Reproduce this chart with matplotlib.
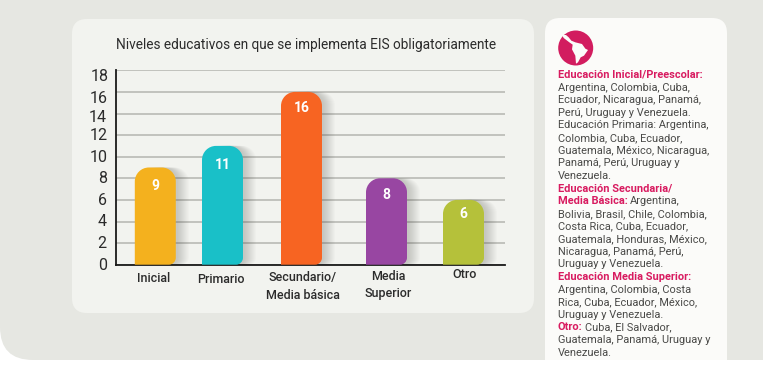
import matplotlib
matplotlib.use('Agg')
import matplotlib.pyplot as plt
from matplotlib.patches import FancyBboxPatch, Circle, PathPatch, Polygon
from matplotlib.path import Path
from matplotlib.transforms import ScaledTranslation

plt.rcParams['font.family'] = ['Roboto', 'DejaVu Sans']

# datos
categorias = ['Inicial', 'Primario', 'Secundario/\nMedia básica', 'Media\nSuperior', 'Otro']
valores = [9, 11, 16, 8, 6]
ticks_y = [0, 2, 4, 6, 8, 10, 12, 14, 16, 18]

titulo = 'Niveles educativos en que se implementa EIS obligatoriamente'

# (parte rosa, parte gris) por renglon
renglones = [
    ('Educación Inicial/Preescolar:', ''),
    ('', 'Argentina, Colombia, Cuba,'),
    ('', 'Ecuador, Nicaragua, Panamá,'),
    ('', 'Perú, Uruguay y Venezuela.'),
    ('', 'Educación Primaria: Argentina,'),
    ('', 'Colombia, Cuba, Ecuador,'),
    ('', 'Guatemala, México, Nicaragua,'),
    ('', 'Panamá, Perú, Uruguay y'),
    ('', 'Venezuela.'),
    ('Educación Secundaria/', ''),
    ('Media Básica:', ' Argentina,'),
    ('', 'Bolivia, Brasil, Chile, Colombia,'),
    ('', 'Costa Rica, Cuba, Ecuador,'),
    ('', 'Guatemala, Honduras, México,'),
    ('', 'Nicaragua, Panamá, Perú,'),
    ('', 'Uruguay y Venezuela.'),
    ('Educación Media Superior:', ''),
    ('', 'Argentina, Colombia, Costa'),
    ('', 'Rica, Cuba, Ecuador, México,'),
    ('', 'Uruguay y Venezuela.'),
    ('Otro:', ' Cuba, El Salvador,'),
    ('', 'Guatemala, Panamá, Uruguay y'),
    ('', 'Venezuela.'),
]

# estilo y posiciones
colores = ['#F4B11E', '#19C0C8', '#F76422', '#9846A2', '#B5C13A']
centros = [155.3, 222.5, 301.5, 386.5, 463.5]
ancho = 41
rosa = '#D81B60'
gris_txt = '#4A4A48'
W, H = 763, 371

fig = plt.figure(figsize=(W / 100, H / 100), dpi=100, facecolor='white')

# fondo en pixeles
bg = fig.add_axes([0, 0, 1, 1])
bg.set_xlim(0, W)
bg.set_ylim(H, 0)
bg.axis('off')
bg.add_patch(FancyBboxPatch((0, -60), W + 60, 420, boxstyle='round,pad=0,rounding_size=33',
                            fc='#E6E7E2', ec='none'))
bg.add_patch(FancyBboxPatch((72, 19), 462, 294, boxstyle='round,pad=0,rounding_size=15',
                            fc='#F2F3EF', ec='none'))
bg.add_patch(FancyBboxPatch((545, 18), 182, 360, boxstyle='round,pad=0,rounding_size=15',
                            fc='#FBFBF9', ec='none'))
bg.add_patch(plt.Rectangle((540, 360), 200, 20, fc='white', ec='none'))

# icono del mapa
bg.add_patch(Circle((575.7, 48), 17.5, fc='#D21C5F', ec='none'))
mapa = [(30, 33), (42, 33), (50, 40), (58, 50), (70, 55), (90, 60), (100, 74), (108, 78), (96, 95),
        (86, 100), (78, 115), (72, 119), (70, 95), (60, 76), (62, 62), (52, 55), (35, 42)]
bg.add_patch(Polygon([(552 + x / 3, 24 + y / 3) for x, y in mapa], fc='#FBFBF9', ec='none'))

bg.text(116, 44.5, titulo, fontsize=9.8, color='#2B2B2B', ha='left', va='center')

# grafico: eje x en pixeles, eje y ajustado a las lineas del original
x0, x1, y0, y18 = 115.6, 505, 264.7, 70.3
ax = fig.add_axes([x0 / W, 1 - y0 / H, (x1 - x0) / W, (y0 - y18) / H])
ax.patch.set_alpha(0)
ax.set_xlim(x0, x1)
ax.set_ylim(0, 18)
for s in ['top', 'right']:
    ax.spines[s].set_visible(False)
for s in ['left', 'bottom']:
    ax.spines[s].set_linewidth(1.3)
    ax.spines[s].set_color('#1A1A1A')
ax.set_axisbelow(True)
ax.yaxis.grid(True, color='#B4B5B0', lw=1.1)
ax.tick_params(length=0)
ax.set_yticks(ticks_y)
ax.set_yticklabels([str(t) for t in ticks_y], fontsize=11.5, color='#2B2B2B')
# los numeros del eje estan colocados a mano en el original
desp_y = [1, 1.5, 1.5, 0.5, 1.5, 1, 1, -2, -5.5, -5]
desp_x = [-4, -4, -4, -4, -4, -3, -3, -4, -3, -2]
for lab, dx, dy in zip(ax.get_yticklabels(), desp_x, desp_y):
    lab.set_transform(lab.get_transform() + ScaledTranslation(dx / 100, dy / 100, fig.dpi_scale_trans))

ax.set_xticks(centros)
ax.set_xticklabels([])
pos_lab = [(153.3, 278), (220.7, 279.5), (302.5, 286.5), (388, 285), (465, 275)]
for cat, (lx, ly) in zip(categorias, pos_lab):
    bg.text(lx, ly, cat, fontsize=9, fontweight='medium', color='#2B2B2B', ha='center', va='center',
            linespacing=1.45)

fig.canvas.draw()


def barra_redonda(cx, v, color):
    # barra con esquinas redondeadas, medida en pixeles a partir de la escala del eje
    px_por_unidad = (y0 - y18) / 18
    izq, der = cx - ancho / 2, cx + ancho / 2
    r = 14 / px_por_unidad
    rx = 14
    rb = 7 / px_por_unidad
    rbx = 7
    k = 0.45
    verts = [(izq, 0), (der - rbx, 0),
             (der - rbx * k, 0), (der, rb * k), (der, rb),
             (der, v - r),
             (der, v - r * k), (der - rx * k, v), (der - rx, v),
             (izq + rx, v),
             (izq + rx * k, v), (izq, v - r * k), (izq, v - r),
             (izq, 0), (izq, 0)]
    codes = [Path.MOVETO, Path.LINETO,
             Path.CURVE4, Path.CURVE4, Path.CURVE4,
             Path.LINETO,
             Path.CURVE4, Path.CURVE4, Path.CURVE4,
             Path.LINETO,
             Path.CURVE4, Path.CURVE4, Path.CURVE4,
             Path.LINETO, Path.CLOSEPOLY]
    return Path(verts, codes), color


# el numero de cada barra baja distinto en el original
baja = [18.5, 19.5, 16.5, 17, 14.5]
for cx, v, c, b in zip(centros, valores, colores, baja):
    path, color = barra_redonda(cx, v, c)
    # sombra suave hacia la derecha
    for i in range(1, 13):
        sombra = Path(path.vertices + [14 - i, 0], path.codes)
        ax.add_patch(PathPatch(sombra, fc='#55554F', ec='none', alpha=0.022, zorder=2, clip_on=True))
    ax.add_patch(PathPatch(path, fc=color, ec='none', zorder=3))
    ax.annotate(str(v), (cx, v), xytext=(0, -b), textcoords='offset pixels', ha='center', va='center',
                color='white', fontsize=10, fontweight='bold', zorder=4)

# texto de la derecha
rend = fig.canvas.get_renderer()
y_lin = 75.0
paso = 12.62
for rosa_txt, gris in renglones:
    x = 558
    if rosa_txt:
        t = bg.text(x, y_lin, rosa_txt, fontsize=7.9, fontweight='bold', color=rosa, ha='left', va='center')
        x += t.get_window_extent(rend).width
    if gris:
        bg.text(x + (2.5 if rosa_txt else 0), y_lin, gris.strip(), fontsize=7.9, color=gris_txt, ha='left', va='center')
    y_lin += paso

fig.savefig('out.png', dpi=100)
